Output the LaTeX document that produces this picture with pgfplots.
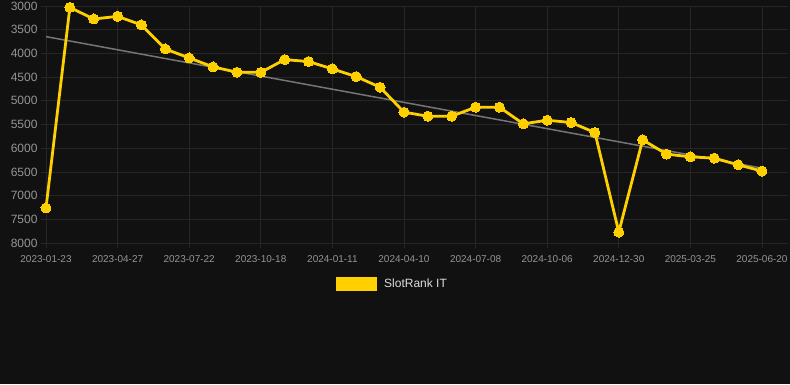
\documentclass[border=0pt]{standalone}
\usepackage{pgfplots}
\pgfplotsset{compat=1.18}
\usepackage{fontspec}
\setmainfont{Liberation Sans}
\definecolor{bg}{HTML}{111111}
\definecolor{gridc}{HTML}{262626}
\definecolor{ticklab}{HTML}{959595}
\definecolor{yel}{HTML}{FFD000}
\definecolor{trend}{HTML}{757575}
\definecolor{legtext}{HTML}{DDDDDD}
\begin{document}
\begin{tikzpicture}
\fill[bg] (0pt,0pt) rectangle (790pt,384pt);
\useasboundingbox (0pt,0pt) rectangle (790pt,384pt);
\begin{axis}[
  at={(46pt,141pt)}, anchor=south west,
  scale only axis, width=742pt, height=237pt,
  xmin=0, xmax=31.09, ymin=3000, ymax=8000, y dir=reverse,
  xtick={0,3,...,30},
  xticklabels={2023-01-23,2023-04-27,2023-07-22,2023-10-18,2024-01-11,2024-04-10,2024-07-08,2024-10-06,2024-12-30,2025-03-25,2025-06-20},
  ytick={3000,3500,...,8000},
  grid=major, major grid style={gridc, line width=0.8pt},
  axis x line*=bottom, axis y line*=left,
  axis line style={gridc, line width=0.8pt, -},
  tick style={gridc, line width=0.8pt}, tick align=outside, major tick length=5pt,
  xticklabel style={font=\fontsize{10}{10}\selectfont, text=ticklab, yshift=-4pt},
  yticklabel style={font=\fontsize{12}{12}\selectfont, text=ticklab},
  /pgf/number format/assume math mode=true,
  /pgf/number format/1000 sep={},
  legend style={at={(0.4665,-0.173)}, anchor=center, draw=none, fill=none,
    font=\fontsize{12}{12}\selectfont, text=legtext,
    nodes={inner sep=1pt}},
  legend cell align=left,
  clip=false,
]
\addplot[trend, line width=1.5pt, forget plot] coordinates {(0,3646) (30,6420)};
\addplot[yel, line width=2.8pt, mark=*, mark size=5pt, mark options={fill=yel, draw=yel, line width=0pt},
  legend image code/.code={\fill[yel] (0pt,-5.5pt) rectangle (38pt,5.5pt);}]
coordinates {
(0,7260) (1,3030) (2,3274) (3,3218) (4,3400) (5,3906) (6,4096) (7,4285) (8,4397) (9,4400)
(10,4130) (11,4172) (12,4327) (13,4490) (14,4714) (15,5240) (16,5325) (17,5325) (18,5135) (19,5135)
(20,5486) (21,5410) (22,5458) (23,5669) (24,7770) (25,5823) (26,6125) (27,6182) (28,6210) (29,6350) (30,6483)
};
\addlegendentry{\hspace{6pt}SlotRank IT}
\end{axis}
\end{tikzpicture}
\end{document}
